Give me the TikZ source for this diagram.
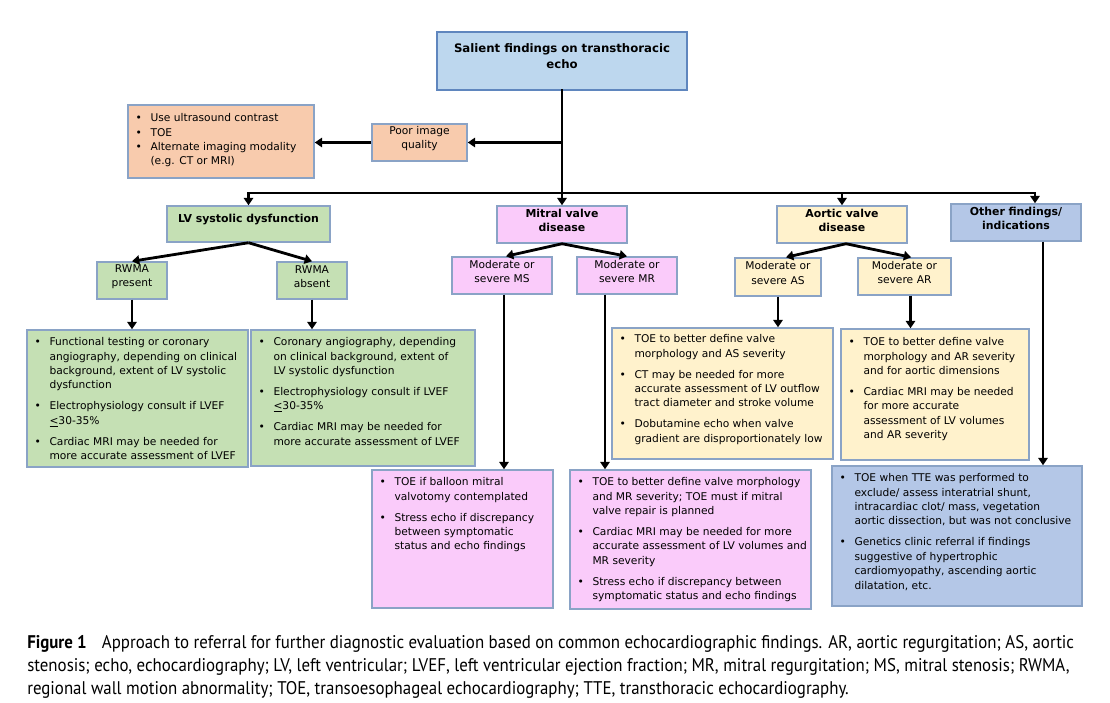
\documentclass[tikz,border=0pt]{standalone}
\usepackage{fontspec}
\setmainfont{DejaVu Sans}
\newfontfamily\capfont[FakeStretch=0.92]{PT Sans}
\usetikzlibrary{arrows.meta,fit,calc}
\definecolor{bluehd}{HTML}{BDD7EE}
\definecolor{bluebd}{HTML}{5F86BE}
\definecolor{peach}{HTML}{F8CBAD}
\definecolor{grn}{HTML}{C5E0B4}
\definecolor{pnk}{HTML}{FACBFA}
\definecolor{yel}{HTML}{FFF2CC}
\definecolor{othc}{HTML}{B4C7E7}
\definecolor{bord}{HTML}{8AA3C6}
\newcommand\blist[1]{\begin{tabular}{@{}p{11.25pt}@{}l@{}}#1\end{tabular}}
\newcommand\bu{\textbullet}
\tikzset{
  box/.style={draw=bord, line width=1.1pt, inner sep=0pt},
  hd/.style={font=\fontsize{8.2}{10.8}\selectfont\bfseries, align=center},
  tx/.style={font=\fontsize{8}{11}\selectfont, align=center},
  btx/.style={anchor=north west, inner sep=0pt, font=\fontsize{8}{10.8}\selectfont},
  ln/.style={line width=2.1pt, line cap=rect},
  arr/.style={line width=2.1pt, -{Triangle[length=5.5pt,width=7pt]}},
}
\begin{document}
\begin{tikzpicture}[x=0.75pt,y=-0.75pt]
\useasboundingbox (0,0) rectangle (1110,703);
% top
\node[box, draw=bluebd, fill=bluehd, fit={(437,32)(687,90)}, hd, font=\fontsize{8.8}{12}\selectfont\bfseries] (top) {Salient findings on transthoracic\\echo};
\node[box, fill=peach, fit={(372,124)(467,161)}, tx] (poor) {Poor image\\quality};
\node[box, fill=peach, fit={(128,105)(314,178)}] (alt) {};
\node[btx] (altt) at ([shift={(8,7)}]alt.north west) {\blist{\bu & Use ultrasound contrast\\ \bu & TOE\\ \bu & Alternate imaging modality\\ & (e.g. CT or MRI)}};
% level 1
\node[box, fill=grn, fit={(167,206)(330,242)}, hd] (lv) {LV systolic dysfunction};
\node[box, fill=pnk, fit={(497,206)(627,243)}, hd] (mit) {Mitral valve\\disease};
\node[box, fill=yel, fit={(777,206)(907,243)}, hd] (aor) {Aortic valve\\disease};
\node[box, fill=othc, fit={(951,204)(1081,241)}, hd] (oth) {Other findings/\\indications};
% level 2
\node[box, fill=grn, fit={(97,262)(167,299)}, tx] (rp) {RWMA\\present};
\node[box, fill=grn, fit={(277,262)(347,299)}, tx] (ra) {RWMA\\absent};
\node[box, fill=pnk, fit={(452,257)(552,294)}, tx] (ms) {Moderate or\\severe MS};
\node[box, fill=pnk, fit={(577,257)(677,294)}, tx] (mr) {Moderate or\\severe MR};
\node[box, fill=yel, fit={(735,258)(821,296)}, tx] (as) {Moderate or\\severe AS};
\node[box, fill=yel, fit={(858,258)(951,295)}, tx] (ar) {Moderate or\\severe AR};
% level 3
\node[box, fill=grn, fit={(27,330)(248,467)}] (g1) {};
\node[btx] (g1t) at ([shift={(8,6)}]g1.north west) {\blist{%
\bu & Functional testing or coronary\\ & angiography, depending on clinical\\ & background, extent of LV systolic\\ & dysfunction\\[5pt]
\bu & Electrophysiology consult if LVEF\\ & \underline{<}30-35\%\\[5pt]
\bu & Cardiac MRI may be needed for\\ & more accurate assessment of LVEF}};
\node[box, fill=grn, fit={(251,330)(475,466)}] (g2) {};
\node[btx] (g2t) at ([shift={(8,6)}]g2.north west) {\blist{%
\bu & Coronary angiography, depending\\ & on clinical background, extent of\\ & LV systolic dysfunction\\[5pt]
\bu & Electrophysiology consult if LVEF\\ & \underline{<}30-35\%\\[5pt]
\bu & Cardiac MRI may be needed for\\ & more accurate assessment of LVEF}};
\node[box, fill=yel, fit={(612,328)(833,459)}] (y1) {};
\node[btx] (y1t) at ([shift={(8,5)}]y1.north west) {\blist{%
\bu & TOE to better define valve\\ & morphology and AS severity\\[5pt]
\bu & CT may be needed for more\\ & accurate assessment of LV outflow\\ & tract diameter and stroke volume\\[5pt]
\bu & Dobutamine echo when valve\\ & gradient are disproportionately low}};
\node[box, fill=yel, fit={(841,329)(1029,460)}] (y2) {};
\node[btx] (y2t) at ([shift={(8,7)}]y2.north west) {\blist{%
\bu & TOE to better define valve\\ & morphology and AR severity\\ & and for aortic dimensions\\[5pt]
\bu & Cardiac MRI may be needed\\ & for more accurate\\ & assessment of LV volumes\\ & and AR severity}};
\node[box, fill=pnk, fit={(372,470)(553,608)}] (pk1) {};
\node[btx] (pk1t) at ([shift={(8,6)}]pk1.north west) {\blist{%
\bu & TOE if balloon mitral\\ & valvotomy contemplated\\[5pt]
\bu & Stress echo if discrepancy\\ & between symptomatic\\ & status and echo findings}};
\node[box, fill=pnk, fit={(570,470)(811,609)}] (pk2) {};
\node[btx] (pk2t) at ([shift={(8,6)}]pk2.north west) {\blist{%
\bu & TOE to better define valve morphology\\ & and MR severity; TOE must if mitral\\ & valve repair is planned\\[5pt]
\bu & Cardiac MRI may be needed for more\\ & accurate assessment of LV volumes and\\ & MR severity\\[5pt]
\bu & Stress echo if discrepancy between\\ & symptomatic status and echo findings}};
\node[box, fill=othc, fit={(832,466)(1082,606)}] (bl) {};
\node[btx] (blt) at ([shift={(8,6)}]bl.north west) {\blist{%
\bu & TOE when TTE was performed to\\ & exclude/ assess interatrial shunt,\\ & intracardiac clot/ mass, vegetation\\ & aortic dissection, but was not conclusive\\[5pt]
\bu & Genetics clinic referral if findings\\ & suggestive of hypertrophic\\ & cardiomyopathy, ascending aortic\\ & dilatation, etc.}};
% connectors
\coordinate (jn) at (562,193);
\coordinate (jr) at (1035,193);
\draw[ln] (top.south) -- (jn);
\draw[arr] (poor.east -| jn) -- (poor.east);
\draw[arr] (poor.west) -- (poor.west -| alt.east);
\draw[arr] (jn) -| (lv.north);
\draw[arr] (jn) -- (mit.north);
\draw[arr] (jn) -| (jr |- oth.north);
\draw[arr] (aor.north |- jn) -- (aor.north);
\draw[arr] (lv.south) -- (rp.north);
\draw[arr] (lv.south) -- (ra.north);
\draw[arr] (rp.south) -- (rp.south |- g1.north);
\draw[arr] (ra.south) -- (ra.south |- g2.north);
\draw[arr] (mit.south) -- ([xshift=3pt]ms.north);
\draw[arr] (mit.south) -- (mr.north);
\draw[arr] ([xshift=1.5pt]ms.south) -- ([xshift=1.5pt]ms.south |- pk1.north);
\draw[arr] ([xshift=-16.5pt]mr.south) -- ([xshift=-16.5pt]mr.south |- pk2.north);
\draw[arr] ([xshift=3pt]aor.south) -- ([xshift=6pt]as.north);
\draw[arr] ([xshift=3pt]aor.south) -- ([xshift=5pt]ar.north);
\draw[arr] (as.south) -- (as.south |- y1.north);
\draw[arr] ([xshift=4.5pt]ar.south) -- ([xshift=4.5pt]ar.south |- y2.north);
\draw[arr] ([xshift=20.25pt]oth.south) -- ([xshift=20.25pt]oth.south |- bl.north);
% caption
\node[anchor=north west, inner sep=0pt, align=left, font=\capfont\fontsize{13.75}{17.25}\selectfont] (cap) at (27,635) {{\bfseries Figure 1}\hspace{8pt} Approach to referral for further diagnostic evaluation based on common echocardiographic findings. AR, aortic regurgitation; AS, aortic\\
stenosis; echo, echocardiography; LV, left ventricular; LVEF, left ventricular ejection fraction; MR, mitral regurgitation; MS, mitral stenosis; RWMA,\\
regional wall motion abnormality; TOE, transoesophageal echocardiography; TTE, transthoracic echocardiography.};
\end{tikzpicture}
\end{document}
